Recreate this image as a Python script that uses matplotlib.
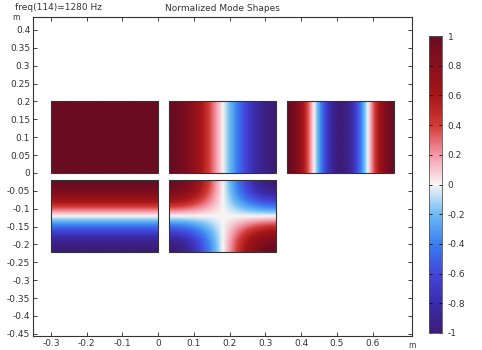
import numpy as np
import matplotlib.pyplot as plt
from matplotlib.colors import LinearSegmentedColormap

# plate placements (m) and mode indices (along x, along y)
plate_x0 = [-0.3, 0.03, 0.36, -0.3, 0.03]
plate_y0 = [0.0, 0.0, 0.0, -0.22, -0.22]
mode_m = [0, 1, 2, 0, 1]
mode_n = [0, 0, 0, 1, 1]
plate_w = 0.3
plate_h = 0.2

x_ticks = [-0.3, -0.2, -0.1, 0, 0.1, 0.2, 0.3, 0.4, 0.5, 0.6]
y_ticks = [0.4, 0.35, 0.3, 0.25, 0.2, 0.15, 0.1, 0.05, 0, -0.05, -0.1, -0.15,
           -0.2, -0.25, -0.3, -0.35, -0.4, -0.45]
cb_ticks = [1, 0.8, 0.6, 0.4, 0.2, 0, -0.2, -0.4, -0.6, -0.8, -1]

# COMSOL-like "Wave" colour table
wave = LinearSegmentedColormap.from_list("wave", [
    (0.00, "#3c1c78"), (0.10, "#3a2ca8"), (0.20, "#4446dc"), (0.30, "#3a7ef0"),
    (0.40, "#6cbcf4"), (0.50, "#f8f6f6"), (0.60, "#f49aaa"), (0.70, "#d23a36"),
    (0.80, "#a51618"), (0.90, "#8a0f1c"), (1.00, "#6a0c22")])

plt.rcParams['font.family'] = 'DejaVu Sans'
fig = plt.figure(figsize=(4.82, 3.5), dpi=100)
ax = fig.add_axes([33/482, 1-336/350, 379/482, 319/350])

xi = np.linspace(0, 1, 200)
eta = np.linspace(0, 1, 140)
XI, ETA = np.meshgrid(xi, eta)
im = None
for x0, y0, m, n in zip(plate_x0, plate_y0, mode_m, mode_n):
    field = np.cos(m*np.pi*XI) * np.cos(n*np.pi*ETA)
    im = ax.imshow(field, cmap=wave, vmin=-1, vmax=1, origin='upper',
                   extent=[x0, x0+plate_w, y0, y0+plate_h], interpolation='bilinear')
    ax.add_patch(plt.Rectangle((x0, y0), plate_w, plate_h, fill=False,
                               ec='#333333', lw=0.8))

ax.set_aspect('auto')
ax.set_xlim(-0.35, 0.71)
ax.set_ylim(-0.456, 0.436)
ax.set_xticks(x_ticks)
ax.set_xticklabels([f"{t:g}" for t in x_ticks])
ax.set_yticks(y_ticks)
ax.set_yticklabels([f"{t:g}" for t in y_ticks])
ax.tick_params(direction='in', length=3, width=0.6, labelsize=6.5, colors='#222222',
               top=True, right=True, labelcolor='#333333', pad=2)
for s in ax.spines.values():
    s.set_linewidth(0.8)
    s.set_color('#333333')

ax.set_title("Normalized Mode Shapes", fontsize=6.5, color='#333333', pad=4)
fig.text(15/482, 1-7/350, "freq(114)=1280 Hz", fontsize=6.5, color='#333333', va='center')
fig.text(12/482, 1-17/350, "m", fontsize=5.5, color='#333333', va='center')
fig.text(412/482, 1-346/350, "m", fontsize=5.5, color='#333333', va='center', ha='center')

cax = fig.add_axes([429/482, 1-333/350, 13/482, 297/350])
cb = fig.colorbar(im, cax=cax, ticks=cb_ticks)
cb.ax.set_yticklabels([f"{t:g}" for t in cb_ticks])
cb.ax.tick_params(direction='in', length=2, width=0.6, labelsize=6.5, labelcolor='#333333',
                  left=True, right=True, pad=4)
cb.outline.set_linewidth(0.6)
cb.outline.set_edgecolor('#555555')

fig.savefig("out.png", dpi=100)
